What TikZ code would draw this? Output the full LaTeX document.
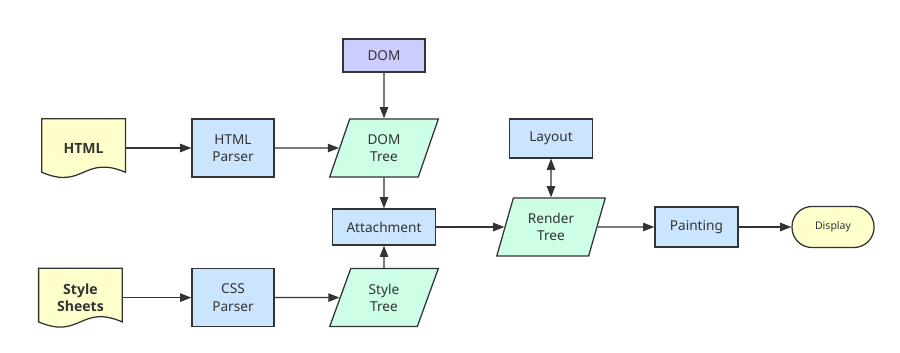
\documentclass[tikz,border=0pt]{standalone}
\usepackage{fontspec}
\setmainfont{Noto Sans}
\newfontfamily\docfont{Open Sans}
\usepackage{tikz}
\usetikzlibrary{positioning, arrows.meta, shapes.geometric, calc, backgrounds}

\definecolor{linegray}{RGB}{51,51,51}
\definecolor{boxblue}{RGB}{204,229,255}
\definecolor{domlilac}{RGB}{204,204,255}
\definecolor{treegreen}{RGB}{204,255,230}
\definecolor{docyellow}{RGB}{255,255,204}

\begin{document}
\begin{tikzpicture}[
    font=\fontsize{9.7}{12.2}\selectfont, text=linegray,
    box/.style={draw=linegray, line width=0.9pt, fill=boxblue, align=center,
      minimum width=2.05cm, minimum height=1.45cm, inner sep=2pt},
    slanted/.style={trapezium, trapezium left angle=71, trapezium right angle=109,
      trapezium stretches=true, draw=linegray, line width=0.9pt, fill=treegreen,
      align=center, minimum width=2.725cm, minimum height=1.45cm, inner sep=2pt},
    docnode/.style={minimum width=2.075cm, minimum height=1.45cm, align=center,
      inner sep=2pt, font=\docfont\fontsize{10}{12.5}\selectfont\bfseries},
    docline/.style={draw=linegray, line width=0.9pt, fill=docyellow},
    conn/.style={draw=linegray, line width=0.9pt, -{Triangle[length=8pt, width=6pt]}},
  ]
  \useasboundingbox (0,0) rectangle (22.5,8.8);

  % Sources
  \node[docnode] (html) at (2.09,5.10) {HTML};
  \node[docnode] (sheets) at (2.01,1.36) {Style\\Sheets};

  % Parsers
  \node[box] (htmlparser) at (5.825,5.10) {HTML\\Parser};
  \node[box] (cssparser) at (5.825,1.36) {CSS\\Parser};

  % Trees
  \node[box, fill=domlilac, minimum height=0.825cm] (dom) at (9.6,7.41) {DOM};
  \node[slanted] (domtree) at (9.6,5.10) {DOM\\Tree};
  \node[box, minimum width=2.575cm, minimum height=0.9cm] (attach) at (9.6,3.125) {Attachment};
  \node[slanted] (styletree) at (9.6,1.36) {Style\\Tree};
  \node[slanted] (rendertree) at (13.775,3.125) {Render\\Tree};
  \node[box, minimum width=2.075cm, minimum height=0.975cm] (layout) at (13.775,5.34) {Layout};

  % Output
  \node[box, minimum width=2.075cm, minimum height=1.0cm] (painting) at (17.41,3.125) {Painting};
  \node[draw=linegray, line width=0.9pt, fill=docyellow, rounded corners=0.5cm,
    minimum width=2.05cm, minimum height=1.025cm, font=\fontsize{7.5}{9}\selectfont]
    (display) at (20.825,3.125) {Display};

  % Document outlines
  \begin{scope}[on background layer]
    \foreach \d in {html, sheets}
      \draw[docline] (\d.north west) -- (\d.north east)
        -- ($(\d.south east)+(0,0.125)$)
        .. controls ($(\d.south)+(0,0.575)$) and ($(\d.south)+(0,-0.325)$)
        .. ($(\d.south west)+(0,0.125)$) -- cycle;
  \end{scope}

  % Connectors
  \draw[conn] (html) -- (htmlparser);
  \draw[conn] (sheets) -- (cssparser);
  \draw[conn] (htmlparser) -- (domtree);
  \draw[conn] (cssparser) -- (styletree);
  \draw[conn] (dom) -- (domtree);
  \draw[conn] (domtree) -- (attach);
  \draw[conn] (styletree) -- (attach);
  \draw[conn] (attach) -- (rendertree);
  \draw[conn, {Triangle[length=8pt, width=6pt]}-{Triangle[length=8pt, width=6pt]}] (rendertree) -- (layout);
  \draw[conn] (rendertree) -- (painting);
  \draw[conn] (painting) -- (display);
\end{tikzpicture}
\end{document}
